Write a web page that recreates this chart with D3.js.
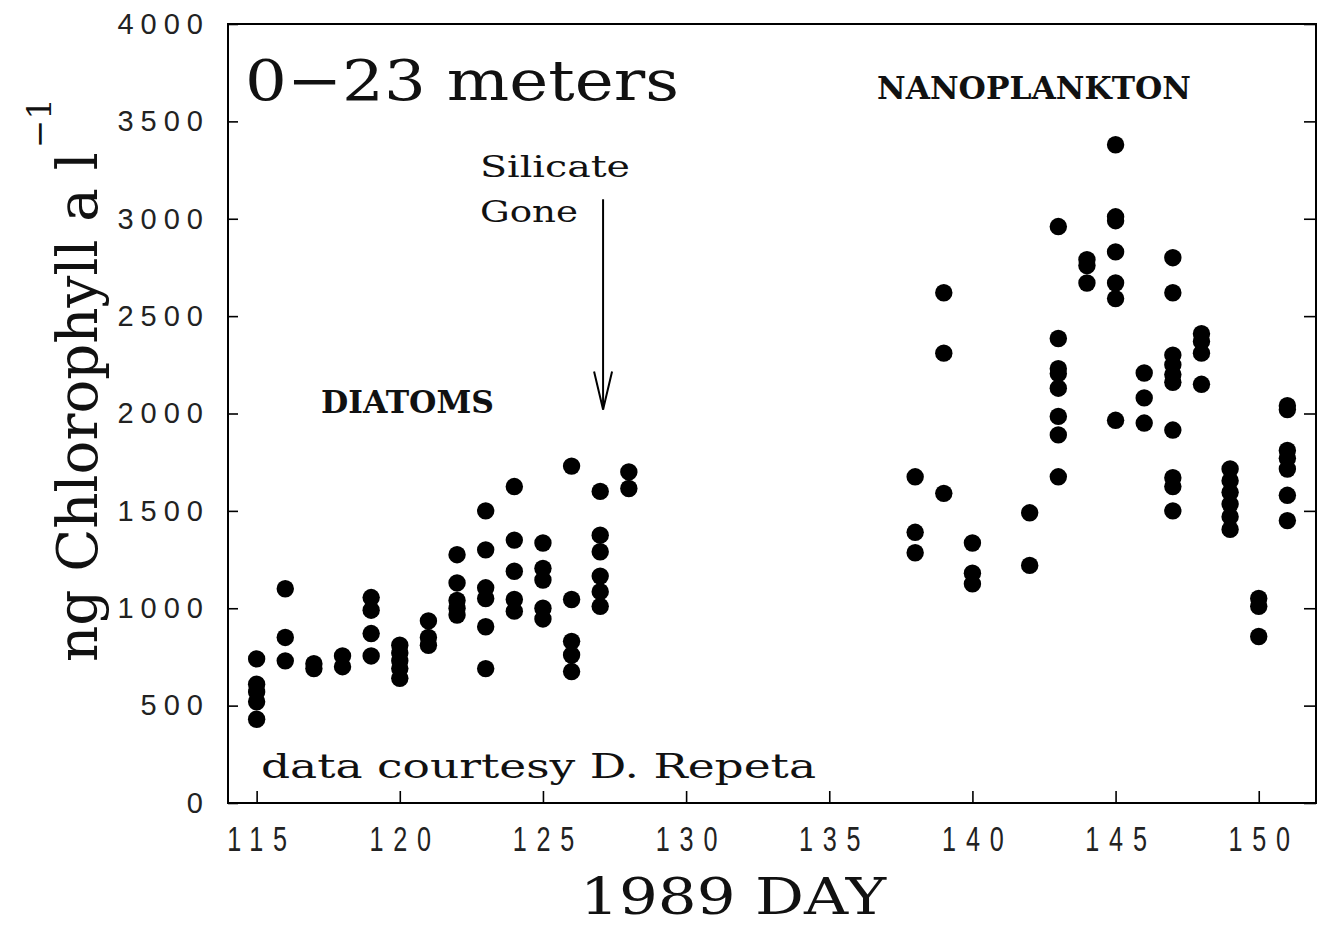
<!DOCTYPE html>
<html><head><meta charset="utf-8">
<script src="https://cdn.jsdelivr.net/npm/d3@7"></script>
<style>body{margin:0;background:#fff;} svg{display:block;}</style>
</head><body>
<svg id="chart" width="1323" height="928"></svg>
<script>
// ---- data (ng Chlorophyll a per litre, 0-23 m) ----
const diatomDays = [115,116,117,118,119,120,121,122,123,124,125,126,127,128];
const diatomChl = [
  [740, 610, 570, 520, 430],
  [1100, 850, 730],
  [715, 690],
  [755, 700],
  [1055, 990, 870, 755],
  [810, 770, 730, 690, 640],
  [935, 850, 810],
  [1275, 1130, 1040, 1000, 965],
  [1500, 1300, 1105, 1050, 905, 690],
  [1625, 1350, 1190, 1045, 985],
  [1335, 1205, 1145, 1000, 945],
  [1730, 1045, 830, 760, 675],
  [1600, 1375, 1290, 1165, 1085, 1010],
  [1700, 1615]
];
const nanoDays = [138,139,140,142,143,144,145,146,147,148,149,150,151];
const nanoChl = [
  [1675, 1390, 1285],
  [2620, 2310, 1590],
  [1335, 1180, 1125],
  [1490, 1220],
  [2960, 2385, 2230, 2205, 2130, 1985, 1890, 1675],
  [2790, 2760, 2670],
  [3380, 3010, 2990, 2830, 2670, 2590, 1965],
  [2208, 2080, 1951],
  [2800, 2620, 2300, 2250, 2200, 2160, 1915, 1670, 1625, 1500],
  [2410, 2370, 2310, 2150],
  [1715, 1655, 1595, 1535, 1470, 1405],
  [1050, 1010, 855],
  [2040, 2020, 1810, 1770, 1715, 1580, 1450]
];
const xTicks = [115,120,125,130,135,140,145,150];
const yTicks = [0,500,1000,1500,2000,2500,3000,3500,4000];
const xDomain = [114, 152];
const yDomain = [0, 4000];
const arrowDay = 127.1, arrowFrom = 3100, arrowTo = 2020;

// ---- drawing ----
const svg = d3.select("#chart");
const M = {l:228, t:24, r:1316, b:803};
const x = d3.scaleLinear().domain(xDomain).range([M.l, M.r]);
const y = d3.scaleLinear().domain(yDomain).range([M.b, M.t]);
const SERIF = "'DejaVu Serif', 'Liberation Serif', serif";
const SANS = "'Liberation Sans', Arial, sans-serif";

svg.append("rect").attr("width",1323).attr("height",928).attr("fill","#fff");

// frame
svg.append("rect").attr("x",M.l).attr("y",M.t)
  .attr("width",M.r-M.l).attr("height",M.b-M.t)
  .attr("fill","none").attr("stroke","#000").attr("stroke-width",2);

// left axis
const gl = svg.append("g").attr("transform",`translate(${M.l},0)`)
  .call(d3.axisLeft(y).tickValues(yTicks).tickFormat(d3.format("d"))
    .tickSizeInner(-10).tickSizeOuter(0).tickPadding(18));
gl.select(".domain").remove();
gl.selectAll("line").attr("stroke-width",1.6);
gl.selectAll("text").attr("font-family",SANS).attr("font-size",29)
  .attr("letter-spacing",7).attr("fill","#222");

// right axis (inward ticks, no labels)
const gr = svg.append("g").attr("transform",`translate(${M.r},0)`)
  .call(d3.axisRight(y).tickValues(yTicks).tickSizeInner(-12).tickSizeOuter(0).tickFormat(""));
gr.select(".domain").remove();
gr.selectAll("line").attr("stroke-width",1.6);

// bottom axis
const gb = svg.append("g").attr("transform",`translate(0,${M.b})`)
  .call(d3.axisBottom(x).tickValues(xTicks).tickFormat(d3.format("d"))
    .tickSizeInner(-12).tickSizeOuter(0).tickPadding(22));
gb.select(".domain").remove();
gb.selectAll("line").attr("stroke-width",1.6);
gb.selectAll("text").attr("font-family",SANS).attr("font-size",36)
  .attr("letter-spacing",14).attr("dx",7).attr("fill","#222")
  .attr("transform","scale(0.7,1)");

// points
const pts = [];
diatomDays.forEach((d,i)=>diatomChl[i].forEach(v=>pts.push({day:d, v})));
nanoDays.forEach((d,i)=>nanoChl[i].forEach(v=>pts.push({day:d, v})));
svg.append("g").selectAll("circle").data(pts).join("circle")
  .attr("cx",d=>x(d.day)).attr("cy",d=>y(d.v)).attr("r",8.7).attr("fill","#000");

// arrow
const ax = x(arrowDay), ay0 = y(arrowFrom), ay1 = y(arrowTo);
svg.append("line").attr("x1",ax).attr("x2",ax).attr("y1",ay0).attr("y2",ay1)
  .attr("stroke","#000").attr("stroke-width",2);
svg.append("path").attr("d",`M${ax-9},${ay1-38} L${ax},${ay1} L${ax+9},${ay1-38}`)
  .attr("fill","none").attr("stroke","#000").attr("stroke-width",2);

// annotations
function txt(s, xx, yy, size, opts={}) {
  const t = svg.append("text").attr("x",xx).attr("y",yy)
    .attr("font-family",SERIF).attr("font-size",size).attr("fill","#111")
    .attr("font-weight",opts.bold?"bold":"normal")
    .attr("text-anchor",opts.anchor||"start").text(s);
  if (opts.len) t.attr("textLength",opts.len).attr("lengthAdjust","spacingAndGlyphs");
  return t;
}
txt("0\u221223 meters", 245, 100, 56, {len:434});
txt("NANOPLANKTON", 877, 99, 32, {bold:true, len:314});
txt("DIATOMS", 321, 413, 32, {bold:true, len:173});
txt("Silicate", 480, 177, 29, {len:150});
txt("Gone", 480, 222, 29, {len:98});
txt("data courtesy D. Repeta", 261, 778, 34, {len:555});
txt("1989 DAY", 580, 914, 50, {len:306});

// y axis title
const yt = svg.append("text").attr("transform","translate(97,662) rotate(-90)")
  .attr("font-family",SERIF).attr("font-size",40).attr("fill","#111");
const yMain = yt.append("tspan").text("ng Chlorophyll a l");
const yMainLen = yMain.node().getComputedTextLength();
yt.attr("font-size", 40 * 510 / yMainLen);
yt.append("tspan").attr("dy",-46).attr("dx",4).attr("font-size",34).text("\u22121");
</script>
</body></html>
